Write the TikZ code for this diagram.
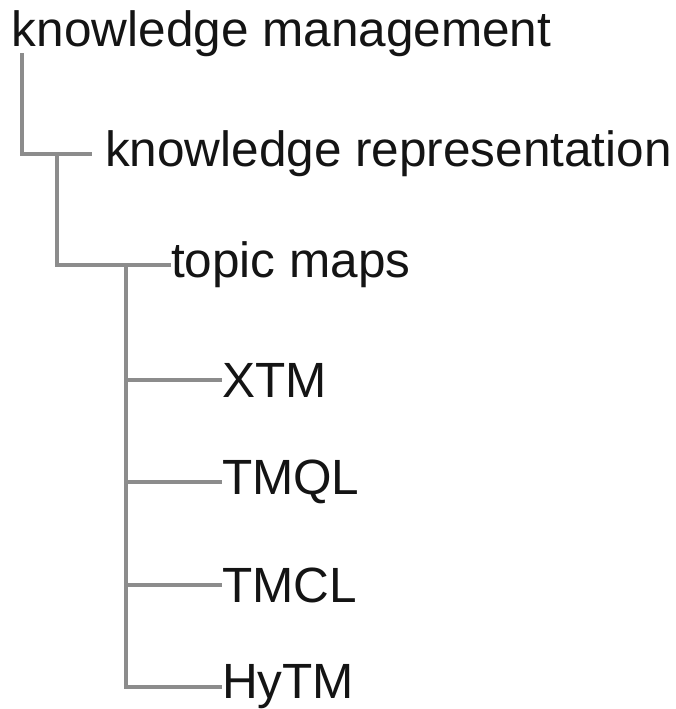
\documentclass[tikz,border=0pt]{standalone}
\usepackage{fontspec}
\setmainfont{Liberation Sans}
\definecolor{branch}{RGB}{140,140,140}
\definecolor{labeltext}{RGB}{20,20,20}
\begin{document}
\begin{tikzpicture}[x=1pt,y=-1pt,
  term/.style={inner sep=0pt, outer sep=0pt, text=labeltext,
    font=\fontsize{49.5}{56}\selectfont},
  branchline/.style={draw=branch, line width=3.8pt}]
\useasboundingbox[fill=white] (0,0) rectangle (676,709);

% tree labels
\node[term, anchor=base west] (km)   at (12,47)  {knowledge management};
\node[term, anchor=west]      (kr)   at (105,154) {knowledge representation};
\node[term, anchor=west]      (tm)   at (171,265) {topic maps};
\node[term, anchor=west]      (xtm)  at (222,380) {XTM};
\node[term, anchor=west]      (tmql) at (222,482) {TMQL};
\node[term, anchor=west]      (tmcl) at (222,585) {TMCL};
\node[term, anchor=west]      (hytm) at (222,687) {HyTM};

% trunk points of each level
\coordinate (t1) at ([xshift=10pt,yshift=4pt]km.south west);
\coordinate (t2) at ([xshift=-48pt]kr.west);
\coordinate (t3) at ([xshift=-45pt]tm.west);

% branches
\draw[branchline] (t1) |- ([xshift=-13pt]kr.west);
\draw[branchline] (t2) |- (tm.west);
\draw[branchline] (t3) |- (hytm.west);
\draw[branchline] (t3 |- xtm.west) -- (xtm.west);
\draw[branchline] (t3 |- tmql.west) -- (tmql.west);
\draw[branchline] (t3 |- tmcl.west) -- (tmcl.west);
\end{tikzpicture}
\end{document}
